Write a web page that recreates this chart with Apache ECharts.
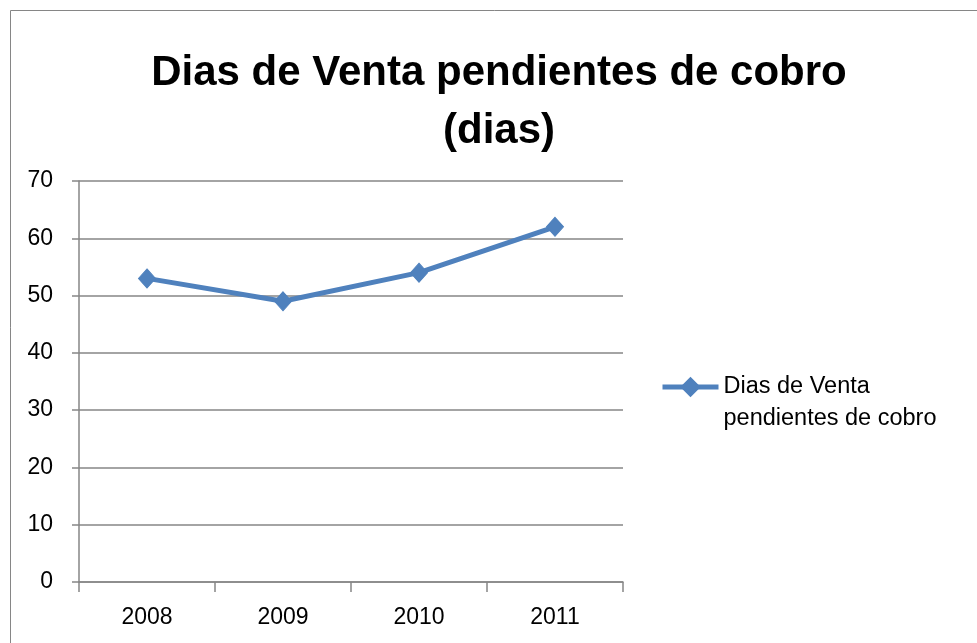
<!DOCTYPE html>
<html>
<head>
<meta charset="utf-8">
<script src="https://cdn.jsdelivr.net/npm/echarts@6/dist/echarts.min.js"></script>
<style>
html,body{margin:0;padding:0;background:#fff;}
#chart{width:977px;height:643px;}
</style>
</head>
<body>
<div id="chart"></div>
<script>
var categories = ['2008', '2009', '2010', '2011'];
var seriesName = 'Dias de Venta pendientes de cobro';
var values = [53, 49, 54, 62];
var yTicks = [0, 10, 20, 30, 40, 50, 60, 70];

var chart = echarts.init(document.getElementById('chart'), null, {renderer: 'canvas'});
var font = '"Liberation Sans", Arial, sans-serif';
var gray = '#868686';
chart.setOption({
  animation: false,
  backgroundColor: '#fff',
  title: {
    text: 'Dias de Venta pendientes de cobro\n(dias)',
    left: 494,
    textAlign: 'center',
    top: 39,
    textStyle: {fontFamily: font, fontSize: 42, fontWeight: 'bold', color: '#000', lineHeight: 58}
  },
  graphic: [{
    type: 'rect',
    shape: {x: 10.5, y: 10.5, width: 1000, height: 1000},
    style: {fill: 'none', stroke: gray, lineWidth: 1},
    silent: true,
    z: -1
  }],
  legend: {
    left: 655,
    top: 334,
    itemWidth: 56,
    itemHeight: 22,
    data: [seriesName],
    lineStyle: {width: 5},
    formatter: function () { return '\nDias de Venta\npendientes de cobro'; },
    textStyle: {fontFamily: font, fontSize: 23.5, color: '#000', lineHeight: 32}
  },
  grid: {left: 79, right: 354, top: 181, bottom: 61, containLabel: false},
  xAxis: {
    type: 'category',
    data: categories,
    boundaryGap: true,
    axisLine: {lineStyle: {color: gray, width: 1.5}},
    axisTick: {show: true, length: 10, lineStyle: {color: gray, width: 1.5}, alignWithLabel: false},
    axisLabel: {fontFamily: font, fontSize: 23, color: '#000', margin: 24}
  },
  yAxis: {
    type: 'value',
    min: 0,
    max: 70,
    interval: 10,
    axisLine: {show: true, lineStyle: {color: gray, width: 1.5}},
    axisTick: {show: true, length: 7, lineStyle: {color: gray, width: 1.5}},
    splitLine: {show: true, lineStyle: {color: gray, width: 1.5}},
    axisLabel: {fontFamily: font, fontSize: 23, color: '#000', margin: 26,
      formatter: function (v) { return yTicks.indexOf(v) >= 0 ? String(v) : ''; }}
  },
  series: [{
    name: seriesName,
    type: 'line',
    data: values,
    symbol: 'diamond',
    symbolSize: [17, 19],
    lineStyle: {color: '#4F81BD', width: 5},
    itemStyle: {color: '#4F81BD', borderColor: '#4F81BD', borderWidth: 1},
    z: 3
  }]
});
</script>
</body>
</html>
